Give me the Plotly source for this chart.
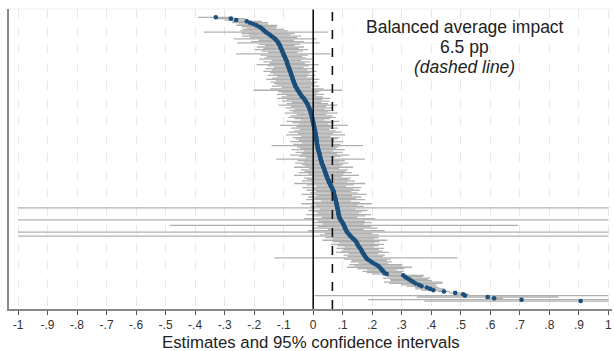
import plotly.graph_objects as go
import numpy as np

# sorted estimates (rank 0 = top)
estimates = [
    -0.330, -0.279, -0.261, -0.225, -0.214, -0.203, -0.192, -0.183, -0.176, -0.170,
    -0.166, -0.160, -0.153, -0.147, -0.141, -0.135, -0.129, -0.125, -0.121, -0.118,
    -0.115, -0.113, -0.111, -0.109, -0.107, -0.105, -0.103, -0.101, -0.099, -0.097,
    -0.095, -0.093, -0.091, -0.089, -0.088, -0.087, -0.085, -0.083, -0.081, -0.080,
    -0.078, -0.076, -0.075, -0.073, -0.072, -0.070, -0.069, -0.067, -0.065, -0.064,
    -0.062, -0.060, -0.057, -0.055, -0.052, -0.049, -0.046, -0.043, -0.040, -0.037,
    -0.032, -0.029, -0.026, -0.023, -0.020, -0.018, -0.016, -0.014, -0.012, -0.010,
    -0.009, -0.007, -0.006, -0.005, -0.004, -0.003, -0.002, -0.001, 0.000, 0.001,
    0.002, 0.003, 0.004, 0.005, 0.006, 0.007, 0.008, 0.008, 0.009, 0.010,
    0.011, 0.011, 0.012, 0.012, 0.013, 0.014, 0.015, 0.016, 0.017, 0.018,
    0.020, 0.021, 0.022, 0.023, 0.024, 0.025, 0.027, 0.028, 0.029, 0.031,
    0.033, 0.035, 0.037, 0.038, 0.040, 0.041, 0.043, 0.045, 0.046, 0.048,
    0.050, 0.052, 0.054, 0.056, 0.058, 0.061, 0.063, 0.065, 0.067, 0.069,
    0.070, 0.071, 0.072, 0.073, 0.075, 0.076, 0.077, 0.078, 0.079, 0.080,
    0.081, 0.082, 0.083, 0.084, 0.085, 0.085, 0.086, 0.087, 0.089, 0.090,
    0.093, 0.096, 0.099, 0.102, 0.104, 0.106, 0.108, 0.110, 0.112, 0.115,
    0.119, 0.123, 0.127, 0.131, 0.136, 0.141, 0.145, 0.148, 0.150, 0.152,
    0.156, 0.159, 0.162, 0.165, 0.167, 0.170, 0.173, 0.176, 0.179, 0.183,
    0.190, 0.197, 0.204, 0.212, 0.220, 0.225, 0.229, 0.233, 0.237, 0.241,
    0.249, 0.305, 0.311, 0.317, 0.325, 0.332, 0.339, 0.347, 0.358, 0.367,
    0.385, 0.396, 0.407, 0.443, 0.481, 0.508, 0.514, 0.591, 0.613, 0.706, 0.906,
]

# half-width of the 95% confidence interval per estimate
ci_half = [
    0.06, 0.05, 0.04, 0.05, 0.06, 0.05, 0.07, 0.06, 0.05, 0.07,
    0.08, 0.21, 0.09, 0.07, 0.10, 0.08, 0.14, 0.06, 0.09, 0.14,
    0.07, 0.05, 0.08, 0.06, 0.09, 0.07, 0.05, 0.16, 0.08, 0.06,
    0.07, 0.09, 0.05, 0.08, 0.06, 0.105, 0.07, 0.05, 0.08, 0.06,
    0.09, 0.07, 0.06, 0.08, 0.05, 0.07, 0.09, 0.06, 0.08, 0.07,
    0.06, 0.08, 0.05, 0.09, 0.15, 0.07, 0.06, 0.08, 0.05, 0.07,
    0.09, 0.06, 0.08, 0.05, 0.07, 0.10, 0.06, 0.08, 0.05, 0.07,
    0.06, 0.09, 0.05, 0.07, 0.08, 0.06, 0.04, 0.09, 0.07, 0.05,
    0.115, 0.06, 0.08, 0.05, 0.07, 0.09, 0.06, 0.10, 0.05, 0.08,
    0.07, 0.06, 0.09, 0.05, 0.08, 0.155, 0.07, 0.06, 0.09, 0.05,
    0.08, 0.06, 0.10, 0.07, 0.05, 0.15, 0.08, 0.06, 0.09, 0.07,
    0.06, 0.10, 0.05, 0.08, 0.07, 0.09, 0.06, 0.11, 0.05, 0.08,
    0.07, 0.09, 0.06, 0.12, 0.08, 0.05, 0.10, 0.07, 0.09, 0.06,
    0.08, 0.11, 0.06, 0.09, 0.07, 0.10, 0.05, 0.08, 0.12, 0.07,
    0.09, 1.50, 0.06, 0.10, 0.08, 0.07, 0.11, 0.09, 0.06, 0.12,
    1.50, 0.08, 0.10, 0.07, 0.59, 0.09, 0.11, 0.06, 0.13, 1.50,
    0.08, 0.10, 1.50, 0.09, 0.07, 0.11, 0.08, 0.06, 0.09, 0.07,
    0.05, 0.08, 0.06, 0.07, 0.09, 0.05, 0.07, 0.06, 0.31, 0.08,
    0.06, 0.07, 0.05, 0.09, 0.08, 0.11, 0.08, 0.05, 0.07, 0.06,
    0.05, 0.07, 0.06, 0.08, 0.065, 0.07, 0.10, 0.09, 0.06, 0.05,
    0.04, 0.05, 0.04, 0.02, 0.02, 0.02, 0.51, 0.24, 0.03, 0.52, 0.53,
]

avg_impact = 0.065
tick_vals = [round(-1 + 0.1 * k, 1) for k in range(21)]
tick_text = ["-1", "-.9", "-.8", "-.7", "-.6", "-.5", "-.4", "-.3", "-.2", "-.1",
             "0", ".1", ".2", ".3", ".4", ".5", ".6", ".7", ".8", ".9", "1"]
note_lines = ["Balanced average impact", "6.5 pp", "<i>(dashed line)</i>"]
x_title = "Estimates and 95% confidence intervals"

est = np.array(estimates)
half = np.array(ci_half)
lo = np.clip(est - half, -1, 1)
hi = np.clip(est + half, -1, 1)
rank = np.arange(len(est))

ci_x, ci_y = [], []
for r, a, b in zip(rank, lo, hi):
    ci_x += [a, b, None]
    ci_y += [r, r, None]

FONT = "Liberation Sans, Arial, sans-serif"

fig = go.Figure()
fig.add_trace(go.Scatter(x=ci_x, y=ci_y, mode="lines",
                         line=dict(color="#b0b0b0", width=1.3),
                         hoverinfo="skip", showlegend=False))
fig.add_trace(go.Scatter(x=est, y=rank, mode="markers",
                         marker=dict(color="#1b4f7c", size=4.6, line=dict(width=0)),
                         showlegend=False))

fig.add_shape(type="line", x0=0, x1=0, y0=0, y1=1, yref="paper", xref="x",
              line=dict(color="#111111", width=1.6))
fig.add_shape(type="line", x0=avg_impact, x1=avg_impact, y0=0, y1=1, yref="paper", xref="x",
              line=dict(color="#111111", width=1.6, dash="dash"))
fig.add_shape(type="line", x0=0, x1=1, y0=1, y1=1, xref="paper", yref="paper",
              line=dict(color="#eeeeee", width=1))

# note lines at reference pixel rows (plot area spans pixel rows 9..309)
for txt, ypx in zip(note_lines, [26.7, 47.2, 66.7]):
    fig.add_annotation(x=0.514, y=(309 - ypx) / 300, xref="x", yref="paper", showarrow=False,
                       text=txt, font=dict(size=17.5, color="#222222", family=FONT),
                       yanchor="middle", xanchor="center")

fig.add_annotation(x=0.5, y=(309 - 342.5) / 300, xref="paper", yref="paper", yanchor="middle",
                   showarrow=False, text=x_title,
                   font=dict(size=16.8, color="#222222", family=FONT))

fig.update_layout(
    width=614, height=351,
    margin=dict(l=9, r=2, t=9, b=42),
    paper_bgcolor="white", plot_bgcolor="white",
    font=dict(family=FONT, color="#222222"),
    xaxis=dict(range=[-1.0305, 1.0122], tickvals=tick_vals, ticktext=tick_text,
               ticks="outside", ticklen=4, tickcolor="#555555", tickwidth=1,
               tickfont=dict(size=12, color="#333333"),
               showline=True, linecolor="#888888", linewidth=1.5,
               showgrid=True, gridcolor="#e8e8e8", griddash="dash", gridwidth=1,
               zeroline=False),
    yaxis=dict(range=[215.9, -6.14], showticklabels=False, showgrid=False,
               zeroline=False, showline=True, linecolor="#888888", linewidth=1.5,
               ticks=""),
)

fig.write_html("out.html", config={"displayModeBar": False},
               post_script="document.body.style.margin='0px';document.body.style.overflow='hidden';")
